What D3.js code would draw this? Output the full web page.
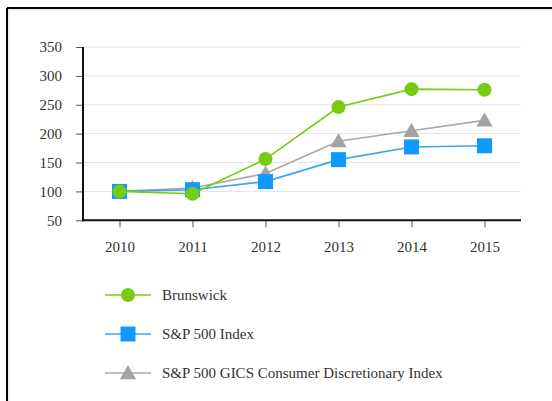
<!DOCTYPE html>
<html><head><meta charset="utf-8">
<script src="https://cdn.jsdelivr.net/npm/d3@7"></script>
<style>
html,body{margin:0;padding:0;background:#fff;}
svg{display:block;}
text{font-family:"Liberation Serif","Times New Roman",Times,serif;fill:#333;}
</style></head>
<body>
<svg id="chart" width="552" height="401"></svg>
<script>
const years = ["2010","2011","2012","2013","2014","2015"];
const brunswick = [100, 96, 156, 246, 277, 276];
const sp500 = [100, 103, 117, 155, 177, 179];
const consumerDisc = [100, 106, 131, 187, 205, 223];
const yTicks = [50, 100, 150, 200, 250, 300, 350];
const seriesNames = ["Brunswick", "S&P 500 Index", "S&P 500 GICS Consumer Discretionary Index"];

(function(){
const svg = d3.select("#chart");
const pLeft = 83, pRight = 521, pTop = 47, pBottom = 220.3;
const serif = '"Liberation Serif", "Times New Roman", Times, serif';

// frame
svg.append("line").attr("x1",7).attr("x2",552).attr("y1",8).attr("y2",8).attr("stroke","#000").attr("stroke-width",2);
svg.append("line").attr("x1",7).attr("x2",7).attr("y1",8).attr("y2",401).attr("stroke","#000").attr("stroke-width",2);
svg.append("line").attr("x1",8).attr("x2",552).attr("y1",10).attr("y2",10).attr("stroke","#ddd").attr("stroke-width",1);
svg.append("line").attr("x1",9).attr("x2",9).attr("y1",9).attr("y2",401).attr("stroke","#ddd").attr("stroke-width",1);

const x = d3.scalePoint().domain(years).range([pLeft, pRight]).padding(0.5);
const y = d3.scaleLinear().domain([50, 350]).range([pBottom, pTop]);

// gridlines
svg.append("g").selectAll("line").data(yTicks.filter(d => d > 50)).join("line")
  .attr("x1", pLeft).attr("x2", pRight)
  .attr("y1", d => y(d)).attr("y2", d => y(d))
  .attr("stroke", "#e4e4e4").attr("stroke-width", 1);

// y axis
const yAxis = svg.append("g").attr("transform", `translate(${pLeft},0)`)
  .call(d3.axisLeft(y).tickValues(yTicks).tickSize(7).tickPadding(14).tickFormat(d3.format("d")))
  .attr("font-family", serif);
yAxis.select(".domain").remove();
yAxis.selectAll(".tick line").attr("stroke", "#555");
yAxis.selectAll("text").attr("font-size", 15).attr("fill", "#333").style("font-family", serif);

// x axis
const xAxis = svg.append("g").attr("transform", `translate(0,${pBottom})`)
  .call(d3.axisBottom(x).tickSize(7).tickPadding(14))
  .attr("font-family", serif);
xAxis.select(".domain").remove();
xAxis.selectAll(".tick line").attr("stroke", "#555");
xAxis.selectAll("text").attr("font-size", 15).attr("fill", "#333").style("font-family", serif);

// axis lines
svg.append("line").attr("x1", pLeft).attr("x2", pLeft).attr("y1", pTop).attr("y2", pBottom + 1)
  .attr("stroke", "#111").attr("stroke-width", 2);
svg.append("line").attr("x1", pLeft - 1).attr("x2", pRight).attr("y1", pBottom).attr("y2", pBottom)
  .attr("stroke", "#111").attr("stroke-width", 2);

const colors = ["#77cc11", "#1199ff", "#a3a3a3"];
const lineColors = ["#77cc11", "#3aa6f0", "#a8a8a8"];
const dataSets = [brunswick, sp500, consumerDisc];
const shapes = [d3.symbolCircle, d3.symbolSquare, d3.symbolTriangle];
const sizes = [154, 225, 115];

const line = d3.line().x((d, i) => x(years[i])).y(d => y(d));

// draw order: gray, blue, green
[2, 1, 0].forEach(k => {
  const g = svg.append("g");
  g.append("path").datum(dataSets[k]).attr("d", line)
    .attr("fill", "none").attr("stroke", lineColors[k]).attr("stroke-width", 1.6);
  g.selectAll("path.m").data(dataSets[k]).join("path").attr("class", "m")
    .attr("transform", (d, i) => `translate(${x(years[i])},${y(d) + (k === 2 ? 1.5 : 0)})`)
    .attr("d", d3.symbol().type(shapes[k]).size(sizes[k]))
    .attr("fill", colors[k]);
});

// legend
const legY = [295, 334, 373];
seriesNames.forEach((name, k) => {
  const g = svg.append("g").attr("transform", `translate(0,${legY[k]})`);
  g.append("line").attr("x1", 105).attr("x2", 151).attr("y1", 0).attr("y2", 0)
    .attr("stroke", lineColors[k]).attr("stroke-width", 1.6);
  g.append("path").attr("transform", `translate(128,${k === 2 ? 1.5 : 0})`)
    .attr("d", d3.symbol().type(shapes[k]).size(sizes[k])).attr("fill", colors[k]);
  g.append("text").attr("x", 162).attr("y", 5).attr("font-size", 15).attr("fill", "#333")
    .style("font-family", serif).text(name);
});
})();
</script>
</body></html>
